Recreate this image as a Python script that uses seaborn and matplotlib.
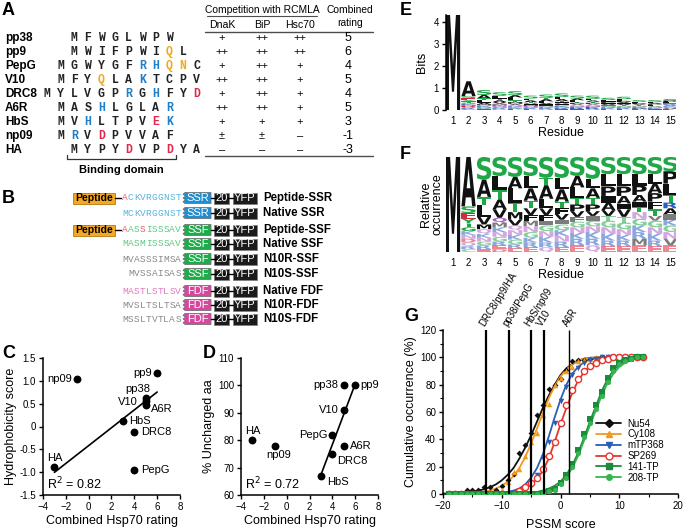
import numpy as np
import pandas as pd
import matplotlib
matplotlib.use("Agg")
import matplotlib.pyplot as plt
import seaborn as sns
from matplotlib.textpath import TextPath
from matplotlib.font_manager import FontProperties
from matplotlib.patches import PathPatch, Rectangle, Polygon
from matplotlib.lines import Line2D
import matplotlib.transforms as mtransforms

# ---------------- Panel A data ----------------
peptides = ["pp38", "pp9", "PepG", "V10", "DRC8", "A6R", "HbS", "np09", "HA"]
sequences = ["MFWGLWPW", "MWIFPWIQL", "MGWYGFRHQNC", "MFYQLAKTCPV", "MYLVGPRGHFYD",
             "MASHLGLAR", "MVHLTPVEK", "MRVDPVVAF", "MYPYDVPDYA"]
seq_start_col = [2, 2, 1, 1, 0, 1, 1, 1, 2]
dnak = ["+", "++", "+", "++", "+", "++", "+", "±", "–"]
bip = ["++", "++", "++", "++", "++", "++", "+", "±", "–"]
hsc70 = ["++", "++", "+", "+", "+", "+", "+", "–", "–"]
combined = [5, 6, 4, 5, 4, 5, 3, -1, -3]

# ---------------- Panel B data ----------------
b_labels = ["Peptide-SSR", "Native SSR", "Peptide-SSF", "Native SSF", "N10R-SSF",
            "N10S-SSF", "Native FDF", "N10R-FDF", "N10S-FDF"]
b_seqs = ["ACKVRGGNST", "MCKVRGGNST", "AASSISSSAV", "MASMISSSAV", "MVASSSIMSA",
          "MVSSAISAS", "MASTLSTLSV", "MVSLTSLTSA", "MSSLTVTLAS"]
b_domain = ["SSR", "SSR", "SSF", "SSF", "SSF", "SSF", "FDF", "FDF", "FDF"]
b_has_peptide = [True, False, True, False, False, False, False, False, False]

# ---------------- Panel C / D data ----------------
hydrophobicity = [0.63, 1.18, -0.95, 0.55, -0.13, 0.48, 0.13, 1.05, -0.88]
uncharged = [100, 100, 82, 91, 75, 78, 67, 78, 80]
c_fit_excluded = ["np09", "PepG"]
d_fit_excluded = ["np09", "HA"]

# ---------------- Panel E / F data ----------------
residues = list(range(1, 16))
e_bits = [4.3, 1.3, 0.9, 0.8, 0.85, 0.65, 0.7, 0.75, 0.65, 0.65, 0.55, 0.6, 0.45, 0.45, 0.5]
f_letters = ["M", "ASEYTGKNDQRC", "SATLVMQKNGRE", "SLTAVQMKNGRED", "SALTMVQNKGRE",
             "SLATVFMNGKRE", "STALVFIGNKRQ", "SLATFVIGKNRE", "SALTPVFGNKRE",
             "SLATPVIGNKRQ", "SLPIAVTGNKRE", "SLPAIVTGNKRE", "SLPAITNGKRME",
             "SLAPFTVGNKRE", "SPLTRAIKGNVE"]
f_fracs = [
    [1.0],
    [.52, .07, .06, .05, .04, .04, .04, .04, .04, .04, .03, .03],
    [.24, .18, .09, .12, .08, .05, .05, .04, .04, .04, .04, .03],
    [.20, .15, .10, .10, .09, .05, .05, .05, .05, .05, .04, .04, .03],
    [.21, .12, .15, .10, .08, .06, .05, .05, .05, .05, .04, .04],
    [.20, .13, .13, .08, .07, .06, .06, .06, .06, .05, .05, .05],
    [.22, .08, .14, .10, .07, .06, .05, .06, .06, .06, .05, .05],
    [.22, .12, .13, .07, .06, .06, .05, .06, .06, .06, .06, .05],
    [.20, .12, .11, .07, .07, .06, .05, .06, .06, .06, .07, .07],
    [.23, .10, .10, .07, .07, .05, .05, .06, .06, .07, .07, .07],
    [.18, .13, .10, .07, .08, .06, .05, .07, .07, .07, .06, .06],
    [.18, .13, .10, .08, .06, .08, .06, .07, .06, .06, .06, .06],
    [.18, .12, .10, .07, .06, .05, .07, .07, .07, .07, .07, .07],
    [.18, .10, .10, .09, .08, .07, .05, .07, .07, .07, .06, .06],
    [.15, .13, .12, .08, .06, .06, .06, .06, .07, .07, .07, .07],
]

# ---------------- Panel G data ----------------
g_series = ["Nu54", "Cy108", "mTP368", "SP269", "141-TP", "208-TP"]
g_x = list(range(-19, 15))
g_nu54 = [1, 1, 1, 3, 3, 3, 5, 5, 3, 6, 10, 15, 30, 36, 45, 58, 65, 77, 80, 84, 91, 97,
          98, 98, 99, 99, 100, 100, 100, 100, 100, 100, 100, 100]
g_cy108 = [0, 0, 0, 0, 0, 0, 0, 0, 1, 3, 9, 16, 18, 28, 38, 45, 58, 66, 80, 85, 90, 93,
           97, 98, 99, 100, 100, 100, 100, 100, 100, 100, 100, 100]
g_mtp368 = [0, 0, 0, 0, 0, 0, 0, 0, 0, 0, 0, 1, 2, 3, 6, 14, 26, 38, 52, 68, 78, 87,
            92, 96, 98, 99, 100, 100, 100, 100, 100, 100, 100, 100]
g_sp269 = [0, 0, 0, 0, 0, 0, 0, 0, 0, 0, 0, 0, 2, 5, 8, 12, 18, 28, 38, 52, 65, 76,
           84, 90, 94, 96, 98, 99, 100, 100, 100, 100, 100, 100]
g_141tp = [0, 0, 0, 0, 0, 0, 0, 0, 0, 0, 0, 0, 0, 0, 0, 0, 1, 2, 4, 8, 14, 22,
           32, 44, 55, 65, 75, 85, 92, 96, 98, 99, 100, 100]
g_208tp = [0, 0, 0, 0, 0, 0, 0, 0, 0, 0, 0, 0, 0, 0, 0, 0, 1, 2, 3, 7, 12, 20,
           30, 42, 52, 62, 72, 82, 90, 95, 97, 99, 100, 100]
g_curve_x = list(range(-20, 15))
g_fit_nu54 = [0.3, 0.4, 0.6, 0.9, 1.2, 1.7, 2.5, 3.5, 5, 7, 10, 14, 19, 26, 34, 43, 53, 63,
              72, 80, 87, 92, 95, 97.5, 99, 99.6, 99.8, 100, 100, 100, 100, 100, 100, 100, 100]
g_fit_cy108 = [0, 0.1, 0.1, 0.2, 0.4, 0.6, 1, 1.6, 2.5, 4, 6, 9, 13, 19, 27, 37, 48, 59,
               70, 79, 86, 91, 95, 97.5, 99, 99.6, 100, 100, 100, 100, 100, 100, 100, 100, 100]
g_fit_mtp368 = [0, 0, 0, 0, 0, 0, 0, 0, 0.5, 0.7, 1, 1.5, 2.5, 4, 7, 12, 19, 29, 42, 56,
                69, 80, 88, 93, 96.5, 98.5, 99.5, 100, 100, 100, 100, 100, 100, 100, 100]
g_fit_sp269 = [0, 0, 0, 0, 0, 0, 0, 0, 0, 0, 0.5, 1, 1.5, 2.5, 4, 7, 11, 17, 26, 38, 51,
               63, 74, 83, 89, 93.5, 96.5, 98, 99, 99.6, 100, 100, 100, 100, 100]
g_fit_141tp = [0, 0, 0, 0, 0, 0, 0, 0, 0, 0, 0, 0, 0, 0, 0.5, 1, 1.5, 2.5, 4, 6, 9, 14,
               21, 30, 41, 53, 64, 75, 84, 90.5, 94.5, 97, 98.5, 99.3, 99.7]
g_fit_208tp = [0, 0, 0, 0, 0, 0, 0, 0, 0, 0, 0, 0, 0, 0, 0.4, 0.8, 1.3, 2, 3.3, 5, 8, 12.5,
               19, 28, 39, 50, 61, 72, 81, 88, 93, 96, 98, 99, 99.6]
g_ref_names = ["DRC8/pp9/HA", "pp38/PepG", "HbS/np09", "V10", "A6R"]
g_ref_x = [-12.6, -8.7, -5.0, -2.8, 1.5]

# ---------------- styling ----------------
sns.set_theme(style="ticks")
plt.rcParams["font.family"] = ["Liberation Sans", "DejaVu Sans"]
plt.rcParams.update({
    "axes.linewidth": 1.1, "xtick.major.width": 1.0, "ytick.major.width": 1.0,
    "xtick.minor.width": 0.8, "ytick.minor.width": 0.8,
    "xtick.major.size": 3, "ytick.major.size": 3, "xtick.minor.size": 2, "ytick.minor.size": 2,
    "xtick.labelsize": 7, "ytick.labelsize": 7, "axes.labelsize": 9,
    "xtick.major.pad": 2, "ytick.major.pad": 2, "axes.labelpad": 2,
    "axes.edgecolor": "black", "xtick.color": "black", "ytick.color": "black",
    "text.color": "black", "axes.labelcolor": "black",
})

W, H = 683, 530
fig = plt.figure(figsize=(6.83, 5.30), dpi=100, facecolor="white")


def px_axes(x0, y0, x1, y1):
    return fig.add_axes([x0 / W, 1 - y1 / H, (x1 - x0) / W, (y1 - y0) / H])


ov = fig.add_axes([0, 0, 1, 1])
ov.set_xlim(0, W)
ov.set_ylim(H, 0)
ov.axis("off")

# panel letters
for lab, (x, y) in {"A": (2, 2), "B": (2, 190), "C": (2, 345), "D": (203, 345),
                    "E": (400, 2), "F": (400, 146), "G": (404, 308)}.items():
    ov.text(x, y, lab, fontsize=13, weight="bold", va="top", ha="left")

# ---------------- Panel A ----------------
RES_COL = {"R": "#1f7fc8", "H": "#1f7fc8", "K": "#1f7fc8", "D": "#e0284a", "E": "#e0284a",
           "Q": "#f2a81d", "N": "#f2a81d"}
row_y0, row_dy = 38, 14
col_x0, col_dx = 47, 13.6
for i, (nm, sq) in enumerate(zip(peptides, sequences)):
    y = row_y0 + row_dy * i
    ov.text(5, y, nm, fontsize=8.5, weight="bold", va="center", ha="left")
    for j, ch in enumerate(sq):
        ov.text(col_x0 + col_dx * (seq_start_col[i] + j), y, ch, fontsize=8.3,
                family=["Liberation Mono", "DejaVu Sans Mono"], weight="bold",
                color=RES_COL.get(ch, "#222222"), va="center", ha="center")
    for cx, val in zip([222, 262, 300], [dnak[i], bip[i], hsc70[i]]):
        ov.text(cx, y, val, fontsize=8, va="center", ha="center")
    ov.text(348, y, str(combined[i]), fontsize=9, va="center", ha="center")

ov.text(262, 10, "Competition with RCMLA", fontsize=7.4, ha="center", va="center")
ov.plot([207, 317], [16, 16], color="0.3", lw=0.8)
for cx, t in zip([222, 262, 300], ["DnaK", "BiP", "Hsc70"]):
    ov.text(cx, 25, t, fontsize=7.6, ha="center", va="center")
ov.text(350, 10, "Combined", fontsize=7.4, ha="center", va="center")
ov.text(350, 23, "rating", fontsize=7.4, ha="center", va="center")
ov.plot([205, 373], [32, 32], color="0.3", lw=1.0)
ov.plot([205, 373], [156, 156], color="0.3", lw=1.0)
# binding-domain bracket
bx0 = col_x0 + col_dx * (seq_start_col[-1] - 0.5)
bx1 = col_x0 + col_dx * (seq_start_col[-1] + 7.5)
ov.plot([bx0, bx0, bx1, bx1], [155, 159, 159, 155], color="0.2", lw=0.9)
ov.text((bx0 + bx1) / 2, 170, "Binding domain", fontsize=8, weight="bold", ha="center", va="center")

# ---------------- Panel B ----------------
b_rows_y = [198, 213, 230, 244, 259, 274, 291, 305, 319]
DOM_COL = {"SSR": "#1e8fd2", "SSF": "#1dac4a", "FDF": "#d8479f"}
SEQ_COL = {"SSR": "#58b4e4", "SSF": "#62c887", "FDF": "#e07cc0"}
seq_color_codes = ["rddddddddd", "dddddddddd", "rddrdddddd", "dddddddddd", "gggggggggg",
                   "ggggggggg", "dddddddddd", "gggggggggg", "gggggggggg"]
bh = 11
for i, yc in enumerate(b_rows_y):
    dom = b_domain[i]
    codes = seq_color_codes[i]
    seq = b_seqs[i]
    n = len(seq)
    for j, ch in enumerate(seq):
        code = codes[j]
        c = {"r": "#ee5b6e", "d": SEQ_COL[dom], "g": "#8a8a8a"}[code]
        ov.text(181 - (n - j - 0.5) * 5.9, yc, ch, fontsize=6.8,
                family=["Liberation Mono", "DejaVu Sans Mono"], color=c, ha="center", va="center")
    if b_has_peptide[i]:
        ov.add_patch(Rectangle((73, yc - bh / 2), 42, bh, facecolor="#f5a823", edgecolor="#b07a10", lw=0.6))
        ov.text(94, yc, "Peptide", fontsize=7.5, weight="bold", ha="center", va="center")
        ov.plot([115, 121], [yc, yc], color="black", lw=1)
    # domain box with zigzag left edge
    x0, x1 = 183, 211
    pts = [(x1, yc - bh / 2), (x1, yc + bh / 2), (x0 + 2, yc + bh / 2)]
    for k in range(1, 6):
        pts.append((x0 + (0 if k % 2 else 2.5), yc + bh / 2 - k * bh / 6))
    pts.append((x0 + 2, yc - bh / 2))
    ov.add_patch(Polygon(pts, closed=True, facecolor=DOM_COL[dom], edgecolor="0.45", lw=0.6))
    ov.text(198, yc, dom, fontsize=8, color="white", ha="center", va="center")
    ov.plot([211, 233], [yc, yc], color="black", lw=1)
    ov.add_patch(Rectangle((214, yc - bh / 2), 15, bh, facecolor="#1b1b1b", edgecolor="0.5", lw=0.6))
    ov.text(221.5, yc, "20", fontsize=8, color="white", ha="center", va="center")
    ov.add_patch(Rectangle((233, yc - bh / 2), 24, bh, facecolor="#1b1b1b", edgecolor="0.5", lw=0.6))
    ov.text(245, yc, "YFP", fontsize=8, color="white", ha="center", va="center")
    ov.text(263, yc, b_labels[i], fontsize=8.3, weight="bold", ha="left", va="center")

# ---------------- Panel C ----------------
df = pd.DataFrame({"name": peptides, "rating": combined, "hydro": hydrophobicity,
                   "uncharged": uncharged})
ax_c = px_axes(43, 358, 180, 495)
sns.scatterplot(data=df, x="rating", y="hydro", color="black", s=32, linewidth=0, ax=ax_c, zorder=3)
sns.regplot(data=df[~df["name"].isin(c_fit_excluded)], x="rating", y="hydro", scatter=False,
            ci=None, truncate=True, color="black", line_kws={"lw": 1.2}, ax=ax_c)
ax_c.set_xlim(-4, 8)
ax_c.set_ylim(-1.5, 1.5)
ax_c.set_xticks([-4, -2, 0, 2, 4, 6, 8])
ax_c.set_yticks([-1.5, -1.0, -0.5, 0, 0.5, 1.0, 1.5])
ax_c.set_yticklabels(["-1.5", "-1.0", "-0.5", "0", "0.5", "1.0", "1.5"])
ax_c.set_xlabel("Combined Hsp70 rating")
ax_c.set_ylabel("Hydrophobicity score")
sns.despine(ax=ax_c)
c_lab = {"pp38": ((-8, 4), "center", "bottom"), "pp9": ((-5, 0), "right", "center"),
         "V10": ((-8, -1), "right", "center"), "A6R": ((5, -4), "left", "center"),
         "HbS": ((6, 0), "left", "center"), "DRC8": ((7, 0), "left", "center"),
         "PepG": ((7, 0), "left", "center"), "HA": ((0, 4), "center", "bottom"),
         "np09": ((-5, 0), "right", "center")}
for _, r in df.iterrows():
    off, ha, va = c_lab[r["name"]]
    ax_c.annotate(r["name"], (r["rating"], r["hydro"]), xytext=off, textcoords="offset pixels",
                  ha=ha, va=va, fontsize=8)
ax_c.text(0.03, 0.02, "R$^2$ = 0.82", transform=ax_c.transAxes, fontsize=9, ha="left", va="bottom")

# ---------------- Panel D ----------------
ax_d = px_axes(241, 358, 378, 495)
sns.scatterplot(data=df, x="rating", y="uncharged", color="black", s=32, linewidth=0, ax=ax_d, zorder=3)
sns.regplot(data=df[~df["name"].isin(d_fit_excluded)], x="rating", y="uncharged", scatter=False,
            ci=None, truncate=True, color="black", line_kws={"lw": 1.2}, ax=ax_d)
ax_d.set_xlim(-4, 8)
ax_d.set_ylim(60, 110)
ax_d.set_xticks([-4, -2, 0, 2, 4, 6, 8])
ax_d.set_yticks([60, 70, 80, 90, 100, 110])
ax_d.set_xlabel("Combined Hsp70 rating")
ax_d.set_ylabel("% Uncharged aa")
sns.despine(ax=ax_d)
d_lab = {"pp38": ((-5, 0), "right", "center"), "pp9": ((5, 0), "left", "center"),
         "V10": ((-5, 0), "right", "center"), "A6R": ((6, 0), "left", "center"),
         "HbS": ((6, -1), "left", "top"), "DRC8": ((5, -2), "left", "top"),
         "PepG": ((-5, 0), "right", "center"), "HA": ((0, 4), "center", "bottom"),
         "np09": ((3, -4), "center", "top")}
for _, r in df.iterrows():
    off, ha, va = d_lab[r["name"]]
    ax_d.annotate(r["name"], (r["rating"], r["uncharged"]), xytext=off, textcoords="offset pixels",
                  ha=ha, va=va, fontsize=8)
ax_d.text(0.03, 0.02, "R$^2$ = 0.72", transform=ax_d.transAxes, fontsize=9, ha="left", va="bottom")

# ---------------- Panels E / F (sequence logos) ----------------
AA_COL = {}
for ch in "AVLIPFMW":
    AA_COL[ch] = "#111111"
for ch in "GSTYC":
    AA_COL[ch] = "#20a848"
for ch in "NQ":
    AA_COL[ch] = "#b060c8"
for ch in "KRH":
    AA_COL[ch] = "#2a5fc4"
for ch in "DE":
    AA_COL[ch] = "#e0243c"
LOGO_FP = FontProperties(family="DejaVu Sans", weight="bold")


def draw_glyph(ax, ch, x, y, w, h, color, alpha=1.0):
    if h <= 0:
        return
    tp = TextPath((0, 0), ch, size=1, prop=LOGO_FP)
    bb = tp.get_extents()
    tr = (mtransforms.Affine2D().translate(-bb.x0, -bb.y0)
          .scale(w / bb.width, h / bb.height).translate(x - w / 2, y))
    ax.add_patch(PathPatch(tr.transform_path(tp), facecolor=color, edgecolor="none", alpha=alpha))


def draw_stack(ax, pos, letters, heights, width, faint_below=None):
    y = sum(heights)
    for k, (ch, hh) in enumerate(zip(letters, heights)):
        y -= hh
        a = 1.0 if (faint_below is None or k < faint_below) else 0.55
        draw_glyph(ax, ch, pos, y, width, hh, AA_COL[ch], a)


ax_e = px_axes(446, 15, 676, 110)
for k, pos in enumerate(residues):
    draw_stack(ax_e, pos, f_letters[k], [fr * e_bits[k] for fr in f_fracs[k]], 0.92)
ax_e.set_xlim(0.55, 15.35)
ax_e.set_ylim(0, 4.3)
ax_e.set_yticks([0, 1, 2, 3, 4])
ax_e.set_xticks(residues)
ax_e.tick_params(axis="x", length=0, pad=4)
for s in ["top", "right", "bottom"]:
    ax_e.spines[s].set_visible(False)
ax_e.set_xlabel("Residue", labelpad=1)
ax_e.set_ylabel("Bits", labelpad=4)

ax_f = px_axes(446, 157, 676, 252)
for k, pos in enumerate(residues):
    draw_stack(ax_f, pos, f_letters[k], f_fracs[k], 0.92, faint_below=6)
ax_f.set_xlim(0.55, 15.35)
ax_f.set_ylim(0, 1.0)
ax_f.set_xticks(residues)
ax_f.set_yticks([])
ax_f.tick_params(axis="x", length=0, pad=4)
for s in ["top", "right", "bottom", "left"]:
    ax_f.spines[s].set_visible(False)
ax_f.set_xlabel("Residue", labelpad=1)
ax_f.set_ylabel("Relative\noccurrence", labelpad=2, linespacing=0.95)

# ---------------- Panel G ----------------
ax_g = px_axes(443, 330, 678, 494)
g_pts = [g_nu54, g_cy108, g_mtp368, g_sp269, g_141tp, g_208tp]
g_fits = [g_fit_nu54, g_fit_cy108, g_fit_mtp368, g_fit_sp269, g_fit_141tp, g_fit_208tp]
g_colors = ["#111111", "#f29a1f", "#2c5db5", "#e8352b", "#1b8a3a", "#36b44e"]
g_markers = ["D", "^", "v", "o", "s", "o"]
g_msize = [9, 16, 16, 20, 14, 14]
handles = []
for name, pts, fit, c, m, ms in zip(g_series, g_pts, g_fits, g_colors, g_markers, g_msize):
    sns.lineplot(x=g_curve_x, y=fit, color=c, lw=1.3, ax=ax_g, legend=False, zorder=2)
    if name == "SP269":
        sns.scatterplot(x=g_x, y=pts, marker=m, color="white", edgecolor=c, linewidth=1.0,
                        s=ms, ax=ax_g, legend=False, zorder=3)
        handles.append(Line2D([], [], color=c, marker=m, mfc="white", mec=c, ms=5, lw=1.3))
    else:
        sns.scatterplot(x=g_x, y=pts, marker=m, color=c, linewidth=0, s=ms, ax=ax_g,
                        legend=False, zorder=3)
        handles.append(Line2D([], [], color=c, marker=m, mfc=c, mec=c, ms=4, lw=1.3))
for k, (nm, xv) in enumerate(zip(g_ref_names, g_ref_x)):
    ax_g.vlines(xv, 0, 120, color="black", lw=1.6 if k < 4 else 1.0, zorder=4, clip_on=False)
    ax_g.text(xv, 121.5, nm, rotation=58, rotation_mode="anchor", ha="left", va="bottom", fontsize=7)
ax_g.set_xlim(-20, 20)
ax_g.set_ylim(0, 120)
ax_g.set_xticks([-20, -10, 0, 10, 20])
ax_g.set_yticks([0, 20, 40, 60, 80, 100, 120])
ax_g.set_yticks(np.arange(0, 121, 10), minor=True)
ax_g.set_xticks(np.arange(-20, 21, 5), minor=True)
ax_g.set_xlabel("PSSM score", labelpad=6)
ax_g.set_ylabel("Cumulative occurrence (%)")
sns.despine(ax=ax_g)
ax_g.legend(handles, g_series, loc="lower right", bbox_to_anchor=(0.96, 0.04), frameon=False,
            fontsize=7, handlelength=2.6, handletextpad=0.6, labelspacing=0.08, borderpad=0)

fig.savefig("out.png", dpi=100, facecolor="white")
